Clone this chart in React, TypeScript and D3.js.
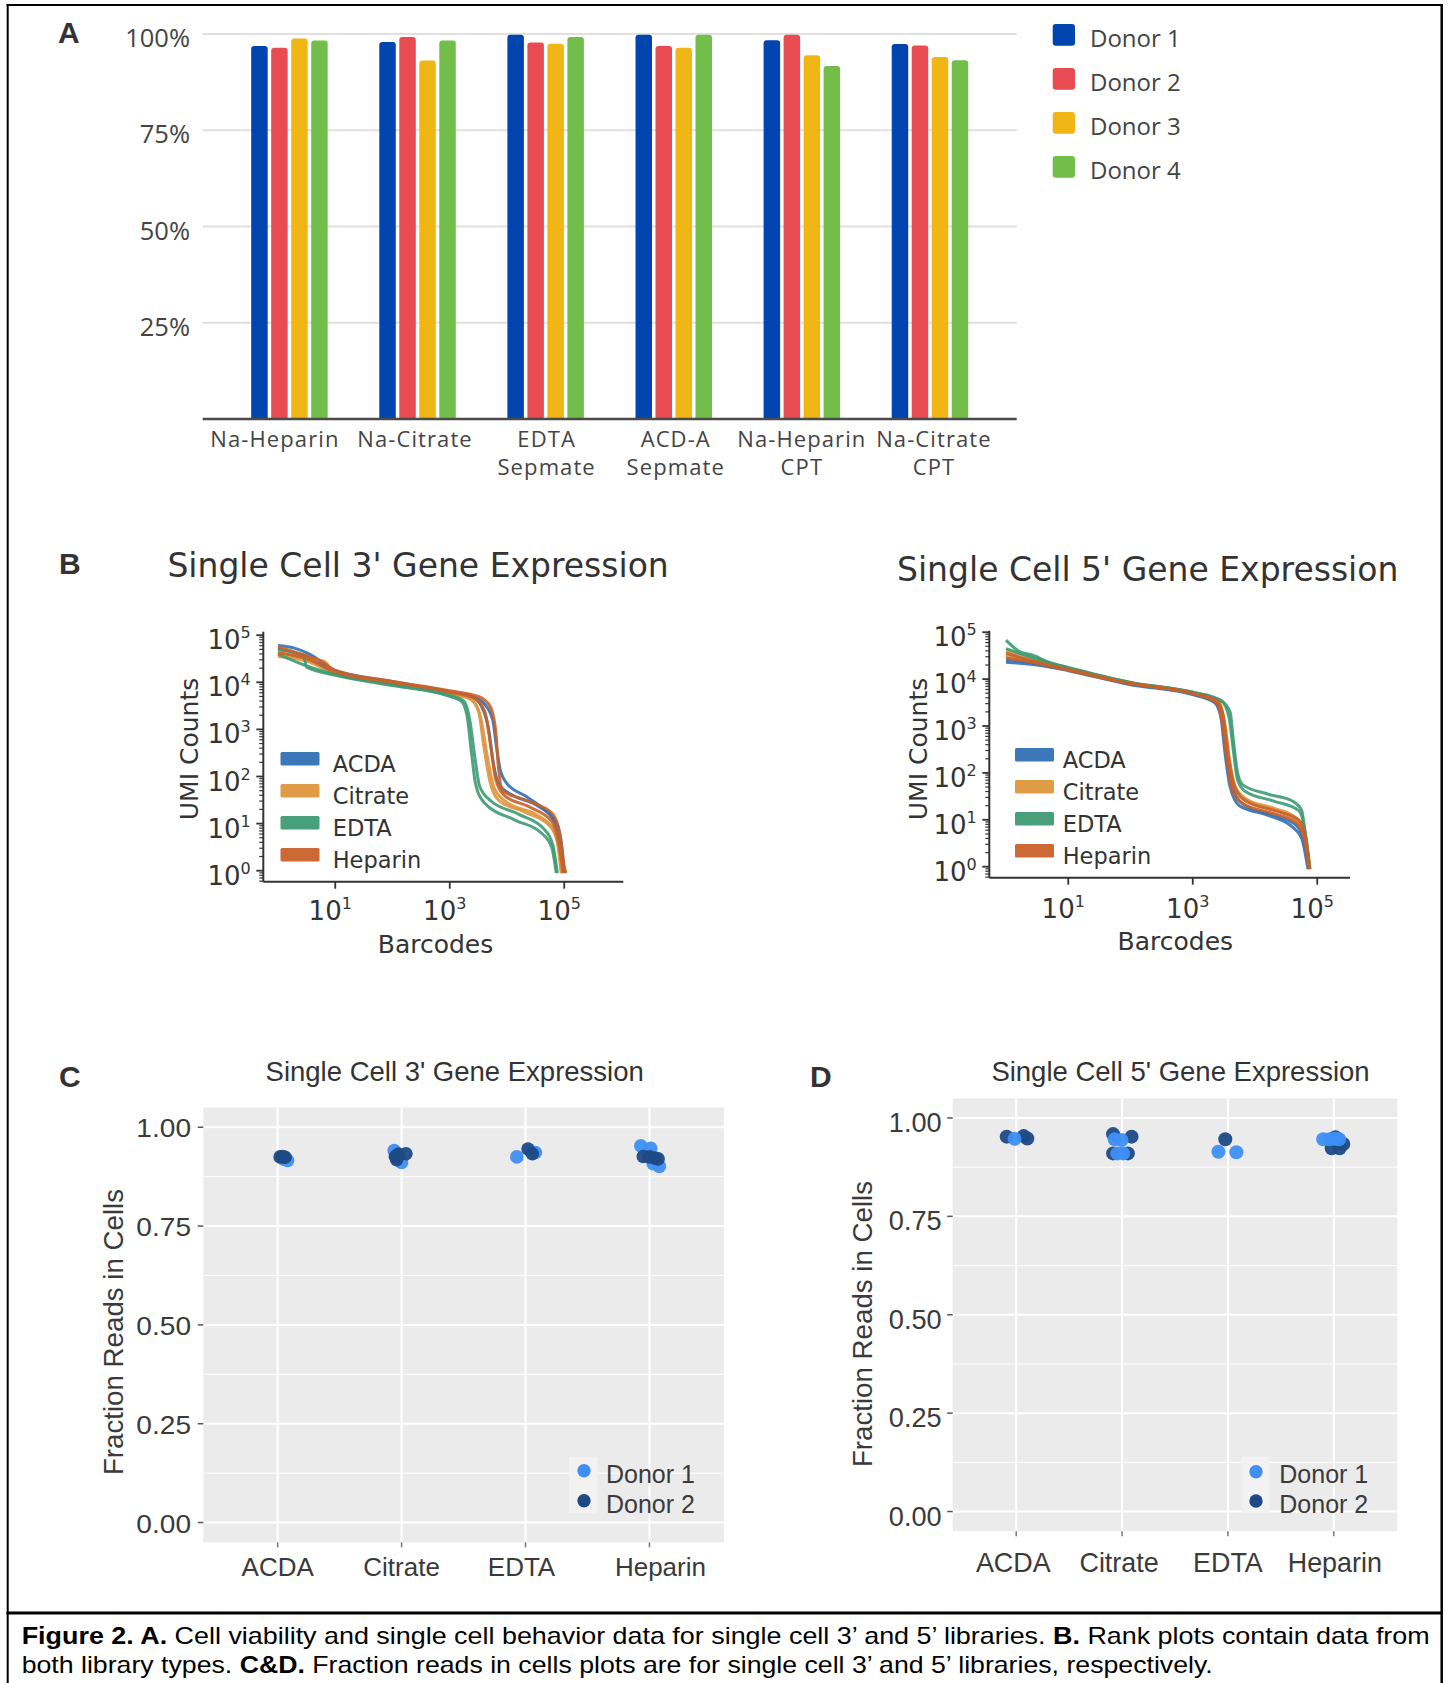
import React from "react";
import * as d3 from "d3";

const W = 1453;
const H = 1683;

const FONT_A = "'Open Sans', 'DejaVu Sans', sans-serif";
const FONT_B = "'DejaVu Sans', sans-serif";
const FONT_CD = "'Liberation Sans', Arial, sans-serif";
const FONT_BOLD = "'Liberation Sans', Arial, sans-serif";

// ---------- Panel A: cell viability per tube type ----------
const tubeTypes = ["Na-Heparin", "Na-Citrate", "EDTA|Sepmate", "ACD-A|Sepmate", "Na-Heparin|CPT", "Na-Citrate|CPT"];
const viabilityDonors = ["Donor 1", "Donor 2", "Donor 3", "Donor 4"];
const viabilityDonor1 = [96.9, 97.9, 99.8, 99.8, 98.4, 97.4];
const viabilityDonor2 = [96.4, 99.2, 97.8, 96.9, 99.8, 97.0];
const viabilityDonor3 = [98.8, 93.1, 97.5, 96.4, 94.5, 94.0];
const viabilityDonor4 = [98.3, 98.3, 99.2, 99.8, 91.7, 93.2];
const viabilityTicks = [25, 50, 75, 100];
const viabilityColors = ["#0044b0", "#e84c52", "#efb615", "#73be4b"];

// ---------- Panel B: barcode rank plots ----------
// each point: [log10(barcode rank), log10(UMI count)]
const acda3a = [[0, 4.78], [0.3, 4.72], [0.55, 4.6], [1, 4.25], [2, 4.02], [3, 3.8], [3.4, 3.7], [3.6, 3.55], [3.75, 3.2], [3.82, 2.6], [3.88, 2.15], [4.0, 1.85], [4.3, 1.6], [4.6, 1.35], [4.85, 1.05], [4.95, 0.6], [5.0, -0.05]];
const acda3b = [[0, 4.7], [0.5, 4.55], [1, 4.2], [2, 4.0], [3, 3.78], [3.4, 3.68], [3.55, 3.5], [3.68, 3.0], [3.76, 2.3], [3.85, 1.85], [4.1, 1.6], [4.5, 1.4], [4.8, 1.1], [4.92, 0.5], [4.97, -0.05]];
const citrate3a = [[0, 4.65], [0.5, 4.5], [0.8, 4.45], [1, 4.2], [2, 3.98], [3, 3.77], [3.35, 3.65], [3.5, 3.4], [3.6, 2.6], [3.7, 1.9], [3.85, 1.5], [4.3, 1.25], [4.75, 0.95], [4.88, 0.6], [4.95, -0.05]];
const citrate3b = [[0, 4.55], [0.5, 4.45], [1, 4.18], [2, 3.97], [3, 3.76], [3.4, 3.62], [3.55, 3.2], [3.66, 2.4], [3.78, 1.75], [4.0, 1.45], [4.5, 1.2], [4.8, 0.9], [4.9, 0.5], [4.95, -0.05]];
const edta3a = [[0, 4.7], [0.45, 4.55], [0.5, 4.32], [1, 4.15], [2, 3.93], [3, 3.7], [3.2, 3.6], [3.3, 3.3], [3.38, 2.5], [3.45, 1.85], [3.6, 1.45], [4.15, 1.07], [4.6, 0.8], [4.78, 0.5], [4.86, -0.05]];
const edta3b = [[0, 4.6], [0.5, 4.35], [1, 4.17], [2, 3.95], [3, 3.72], [3.25, 3.6], [3.35, 3.2], [3.44, 2.4], [3.52, 1.8], [3.7, 1.5], [4.2, 1.2], [4.65, 0.88], [4.8, 0.55], [4.88, -0.05]];
const heparin3a = [[0, 4.75], [0.4, 4.6], [0.75, 4.45], [1, 4.25], [2, 4.02], [3, 3.82], [3.5, 3.7], [3.7, 3.5], [3.8, 3.0], [3.85, 2.2], [3.92, 1.7], [4.2, 1.55], [4.5, 1.42], [4.8, 1.2], [4.92, 0.8], [5.0, 0.1], [5.03, -0.05]];
const heparin3b = [[0, 4.62], [0.5, 4.5], [1, 4.22], [2, 4.0], [3, 3.79], [3.45, 3.65], [3.62, 3.35], [3.72, 2.6], [3.8, 1.95], [3.95, 1.6], [4.4, 1.35], [4.78, 1.05], [4.9, 0.6], [4.98, -0.05]];

const acda5a = [[0, 4.36], [0.5, 4.3], [1, 4.18], [2, 3.88], [3, 3.67], [3.35, 3.5], [3.45, 3.2], [3.52, 2.4], [3.6, 1.7], [3.75, 1.3], [4.2, 1.1], [4.6, 0.85], [4.75, 0.6], [4.85, -0.05]];
const acda5b = [[0, 4.42], [0.5, 4.33], [1, 4.2], [2, 3.9], [3, 3.68], [3.38, 3.5], [3.48, 3.1], [3.56, 2.2], [3.66, 1.6], [3.85, 1.3], [4.3, 1.1], [4.65, 0.9], [4.78, 0.6], [4.87, -0.05]];
const citrate5a = [[0, 4.5], [0.5, 4.38], [1, 4.22], [2, 3.92], [3, 3.7], [3.4, 3.52], [3.5, 3.1], [3.58, 2.3], [3.68, 1.7], [3.85, 1.45], [4.3, 1.25], [4.65, 1.05], [4.8, 0.7], [4.88, -0.05]];
const citrate5b = [[0, 4.6], [0.5, 4.4], [1, 4.23], [2, 3.92], [3, 3.71], [3.42, 3.52], [3.52, 3.0], [3.6, 2.2], [3.7, 1.65], [3.9, 1.4], [4.35, 1.2], [4.7, 0.95], [4.82, 0.6], [4.88, -0.05]];
const edta5a = [[0, 4.83], [0.2, 4.6], [0.45, 4.5], [0.7, 4.35], [1, 4.25], [2, 3.93], [3, 3.72], [3.45, 3.55], [3.6, 3.3], [3.66, 2.6], [3.72, 2.0], [3.8, 1.75], [4.2, 1.55], [4.6, 1.4], [4.75, 1.2], [4.82, 0.5], [4.88, -0.05]];
const edta5b = [[0, 4.65], [0.45, 4.45], [1, 4.24], [2, 3.93], [3, 3.72], [3.45, 3.55], [3.58, 3.2], [3.65, 2.5], [3.72, 1.85], [3.85, 1.6], [4.3, 1.4], [4.7, 1.2], [4.8, 0.8], [4.88, -0.05]];
const heparin5a = [[0, 4.55], [0.5, 4.36], [1, 4.21], [2, 3.91], [3, 3.7], [3.4, 3.53], [3.5, 3.15], [3.57, 2.4], [3.66, 1.75], [3.85, 1.4], [4.3, 1.2], [4.7, 1.0], [4.8, 0.7], [4.88, -0.05]];
const heparin5b = [[0, 4.45], [0.5, 4.34], [1, 4.19], [2, 3.9], [3, 3.69], [3.38, 3.5], [3.47, 3.1], [3.55, 2.3], [3.63, 1.65], [3.8, 1.35], [4.25, 1.15], [4.65, 0.95], [4.78, 0.65], [4.87, -0.05]];

const anticoagulants = ["ACDA", "Citrate", "EDTA", "Heparin"];
const rankColors = ["#3070b5", "#dd963c", "#3d9b73", "#c9612a"];
const rankCurves3 = [[acda3a, acda3b], [citrate3a, citrate3b], [edta3a, edta3b], [heparin3a, heparin3b]];
const rankCurves5 = [[acda5a, acda5b], [citrate5a, citrate5b], [edta5a, edta5b], [heparin5a, heparin5b]];
const rankXTicks = [1, 3, 5];
const rankYTicks = [0, 1, 2, 3, 4, 5];

// ---------- Panels C & D: fraction reads in cells ----------
// each point: [anticoagulant, horizontal jitter (fraction of category spacing), fraction]
const frac3Donor1 = [
  ["ACDA", 0.08, 0.916], ["ACDA", 0.05, 0.919],
  ["Citrate", -0.06, 0.941], ["Citrate", 0, 0.911], ["Citrate", -0.03, 0.925],
  ["EDTA", -0.07, 0.925], ["EDTA", 0.08, 0.936],
  ["Heparin", -0.07, 0.953], ["Heparin", 0.01, 0.947], ["Heparin", 0.03, 0.908], ["Heparin", 0.08, 0.901],
];
const frac3Donor2 = [
  ["ACDA", 0.02, 0.925], ["ACDA", 0.06, 0.924], ["ACDA", 0.04, 0.926],
  ["Citrate", -0.04, 0.918], ["Citrate", -0.025, 0.932], ["Citrate", 0.035, 0.933], ["Citrate", -0.05, 0.926],
  ["EDTA", 0.02, 0.945], ["EDTA", 0.055, 0.933],
  ["Heparin", -0.05, 0.926], ["Heparin", 0, 0.925], ["Heparin", 0.045, 0.922], ["Heparin", 0.07, 0.92],
];
const frac5Donor1 = [
  ["ACDA", -0.016, 0.947],
  ["Citrate", -0.07, 0.946], ["Citrate", -0.005, 0.944], ["Citrate", -0.045, 0.91], ["Citrate", 0.01, 0.91],
  ["EDTA", -0.09, 0.914], ["EDTA", 0.08, 0.913],
  ["Heparin", -0.1, 0.946], ["Heparin", -0.04, 0.946], ["Heparin", 0.05, 0.946], ["Heparin", 0.01, 0.947],
];
const frac5Donor2 = [
  ["ACDA", -0.09, 0.9525], ["ACDA", 0.07, 0.954], ["ACDA", 0.105, 0.948],
  ["Citrate", -0.085, 0.959], ["Citrate", 0.09, 0.9525], ["Citrate", -0.085, 0.91], ["Citrate", 0.055, 0.91],
  ["EDTA", -0.025, 0.946],
  ["Heparin", 0.015, 0.951], ["Heparin", 0.09, 0.934], ["Heparin", -0.02, 0.923], ["Heparin", 0.055, 0.923],
];
const fracTicks = [0, 0.25, 0.5, 0.75, 1];
const fracMinor = [0.125, 0.375, 0.625, 0.875];
const fracDonors = ["Donor 1", "Donor 2"];
const fracColors = ["#3f8ff5", "#1d4a85"];

const TEXT = "#3a3a3a";

function barPath(x: number, y: number, w: number, h: number, r: number) {
  const rr = Math.min(r, w / 2, h);
  return `M${x},${y + h}V${y + rr}Q${x},${y} ${x + rr},${y}H${x + w - rr}Q${x + w},${y} ${x + w},${y + rr}V${y + h}Z`;
}

function PanelA() {
  const series = [viabilityDonor1, viabilityDonor2, viabilityDonor3, viabilityDonor4];
  const left = 202.7, right = 1016.7;
  const x0 = d3.scalePoint<string>().domain(tubeTypes).range([left, right]).padding(0.677);
  const x1 = d3.scaleBand<string>().domain(viabilityDonors).range([-38.25, 38.25]).paddingInner(0.175);
  const y = d3.scaleLinear().domain([0, 100]).range([419, 34]);
  const labelNudge = [-14.5, -2.5, 1, 2, 0, 4];
  return (
    <g>
      <text x={58} y={43} fontFamily={FONT_BOLD} fontWeight="bold" fontSize={30} fill="#333">A</text>
      {viabilityTicks.map((t) => (
        <line key={"g" + t} x1={left} x2={right} y1={y(t)} y2={y(t)} stroke="#e0e0e0" strokeWidth={2} />
      ))}
      {viabilityTicks.map((t) => (
        <text key={"t" + t} x={190} y={y(t) + 13} textAnchor="end" fontFamily={FONT_A} fontSize={25.5} fill="#444">{t}%</text>
      ))}
      {tubeTypes.map((tube, i) =>
        series.map((s, k) => {
          const bx = (x0(tube) as number) + (x1(viabilityDonors[k]) as number);
          const by = y(s[i]);
          return <path key={tube + k} d={barPath(bx, by, x1.bandwidth(), y(0) - by, 3)} fill={viabilityColors[k]} />;
        })
      )}
      <line x1={left} x2={right} y1={y(0)} y2={y(0)} stroke="#4a4a4a" strokeWidth={2.5} />
      {tubeTypes.map((tube, i) => {
        const lines = tube.split("|");
        const cx = (x0(tube) as number) + labelNudge[i];
        return lines.map((ln, j) => (
          <text key={"l" + tube + j} x={cx} y={446.7 + j * 28.5} textAnchor="middle" fontFamily={FONT_A} fontSize={22} letterSpacing={1.1} fill="#444">{ln}</text>
        ));
      })}
      {viabilityDonors.map((d, k) => (
        <g key={d}>
          <rect x={1052.7} y={24 + k * 44} width={22.3} height={21.7} rx={3} fill={viabilityColors[k]} />
          <text x={1090} y={46.7 + k * 44} fontFamily={FONT_A} fontSize={24} fill="#444">{d}</text>
        </g>
      ))}
    </g>
  );
}

type RankCfg = {
  axisX: number; axisY: number; top: number; right: number;
  xOrigin: number; xDecade: number; yOrigin: number; yDecade: number;
  title: string; titleX: number; titleY: number;
  legendX: number; legendTop: number; legendTextX: number;
  xTitleX: number; xTitleY: number; yTitleX: number; yTitleY: number; xTickY: number;
};

function RankPlot({ cfg, curves }: { cfg: RankCfg; curves: number[][][][] }) {
  const { axisX, axisY, top, right, xOrigin, xDecade, yOrigin, yDecade } = cfg;
  const x = d3.scaleLog()
    .domain([10 ** ((axisX - xOrigin) / xDecade), 10 ** ((right - xOrigin) / xDecade)])
    .range([axisX, right]);
  const y = d3.scaleLog()
    .domain([10 ** ((yOrigin - axisY) / yDecade), 10 ** ((yOrigin - top) / yDecade)])
    .range([axisY, top]);
  const line = d3.line<number[]>()
    .x((d) => x(10 ** d[0]))
    .y((d) => y(10 ** d[1]))
    .curve(d3.curveMonotoneX);
  const [yMin, yMax] = y.domain();
  const minor: number[] = [];
  for (let e = -1; e <= 5; e++) {
    for (let m = 2; m <= 9; m++) {
      const v = m * 10 ** e;
      if (v >= yMin && v <= yMax) minor.push(v);
    }
  }
  return (
    <g>
      <text x={cfg.titleX} y={cfg.titleY} fontFamily={FONT_B} fontSize={33} fill="#333">{cfg.title}</text>
      {curves.map((group, c) =>
        group.map((pts, k) => (
          <path key={c + "-" + k} d={line(pts) || ""} fill="none" stroke={rankColors[c]} strokeWidth={3} strokeOpacity={0.9} strokeLinejoin="round" />
        ))
      )}
      <line x1={axisX} x2={axisX} y1={top} y2={axisY} stroke="#333" strokeWidth={2} />
      <line x1={axisX} x2={right} y1={axisY} y2={axisY} stroke="#333" strokeWidth={2} />
      {minor.map((v) => (
        <line key={"m" + v} x1={axisX - 4} x2={axisX} y1={y(v)} y2={y(v)} stroke="#333" strokeWidth={1.2} />
      ))}
      {rankYTicks.map((e) => (
        <g key={"y" + e}>
          <line x1={axisX - 7} x2={axisX} y1={y(10 ** e)} y2={y(10 ** e)} stroke="#333" strokeWidth={1.8} />
          <text x={axisX - 12.5} y={y(10 ** e) + 14} textAnchor="end" fontFamily={FONT_B} fontSize={26} fill="#333">
            10<tspan dy={-11} fontSize={16}>{e}</tspan>
          </text>
        </g>
      ))}
      {rankXTicks.map((e) => (
        <g key={"x" + e}>
          <line x1={x(10 ** e)} x2={x(10 ** e)} y1={axisY} y2={axisY + 7} stroke="#333" strokeWidth={1.8} />
          <text x={x(10 ** e) - 5} y={cfg.xTickY} textAnchor="middle" fontFamily={FONT_B} fontSize={26} fill="#333">
            10<tspan dy={-11} fontSize={16}>{e}</tspan>
          </text>
        </g>
      ))}
      <text x={cfg.xTitleX} y={cfg.xTitleY} textAnchor="middle" fontFamily={FONT_B} fontSize={25} fill="#333">Barcodes</text>
      <text transform={`translate(${cfg.yTitleX},${cfg.yTitleY}) rotate(-90)`} textAnchor="middle" fontFamily={FONT_B} fontSize={25} fill="#333">UMI Counts</text>
      {anticoagulants.map((a, k) => (
        <g key={a}>
          <rect x={cfg.legendX} y={cfg.legendTop + k * 32} width={39} height={13.5} rx={1.5} fill={rankColors[k]} fillOpacity={0.95} />
          <text x={cfg.legendTextX} y={cfg.legendTop + k * 32 + 20} fontFamily={FONT_B} fontSize={22.5} fill="#333">{a}</text>
        </g>
      ))}
    </g>
  );
}

type FracCfg = {
  left: number; right: number; top: number; bottom: number;
  tickFont: number; tickSx: number; tickBase: number; yLabelRight: number;
  xLabelY: number; xLabelFont: number; xLabelSx: number; labelNudge: number[];
  title: string; titleX: number; titleY: number; yTitleX: number; yTitleY: number;
  keyX: number; keyY: number; keyW: number; keyH: number; dotX: number; dotY: number[];
  legendTextX: number; legendBase: number[]; radius: number;
  letter: string; letterX: number; lightOnTop: boolean;
};

function FractionPlot({ cfg, donor1, donor2 }: { cfg: FracCfg; donor1: any[]; donor2: any[] }) {
  const x = d3.scalePoint<string>().domain(anticoagulants).range([cfg.left, cfg.right]).padding(0.6);
  const y = d3.scaleLinear().domain([-0.05, 1.05]).range([cfg.bottom, cfg.top]);
  const step = x.step();
  const layers = cfg.lightOnTop
    ? [{ pts: donor2, color: fracColors[1] }, { pts: donor1, color: fracColors[0] }]
    : [{ pts: donor1, color: fracColors[0] }, { pts: donor2, color: fracColors[1] }];
  return (
    <g>
      <text x={cfg.letterX} y={1087} fontFamily={FONT_BOLD} fontWeight="bold" fontSize={30} fill="#333">{cfg.letter}</text>
      <text x={cfg.titleX} y={cfg.titleY} textAnchor="middle" fontFamily={FONT_CD} fontSize={27.5} fill="#333">{cfg.title}</text>
      <rect x={cfg.left} y={cfg.top} width={cfg.right - cfg.left} height={cfg.bottom - cfg.top} fill="#ebebeb" />
      {fracMinor.map((t) => (
        <line key={"n" + t} x1={cfg.left} x2={cfg.right} y1={y(t)} y2={y(t)} stroke="#fff" strokeWidth={1} />
      ))}
      {fracTicks.map((t) => (
        <line key={"g" + t} x1={cfg.left} x2={cfg.right} y1={y(t)} y2={y(t)} stroke="#fff" strokeWidth={2} />
      ))}
      {anticoagulants.map((a) => (
        <line key={"v" + a} x1={x(a)} x2={x(a)} y1={cfg.top} y2={cfg.bottom} stroke="#fff" strokeWidth={2} />
      ))}
      {fracTicks.map((t) => (
        <g key={"t" + t}>
          <line x1={cfg.left - 5.5} x2={cfg.left} y1={y(t)} y2={y(t)} stroke="#555" strokeWidth={1.5} />
          <text transform={`translate(${cfg.yLabelRight},${y(t) + cfg.tickBase}) scale(${cfg.tickSx},1)`} textAnchor="end" fontFamily={FONT_CD} fontSize={cfg.tickFont} fill={TEXT}>{t.toFixed(2)}</text>
        </g>
      ))}
      {anticoagulants.map((a, i) => (
        <g key={"x" + a}>
          <line x1={x(a)} x2={x(a)} y1={cfg.bottom} y2={cfg.bottom + 5} stroke="#777" strokeWidth={1.5} />
          <text transform={`translate(${(x(a) as number) + cfg.labelNudge[i]},${cfg.xLabelY}) scale(${cfg.xLabelSx},1)`} textAnchor="middle" fontFamily={FONT_CD} fontSize={cfg.xLabelFont} fill={TEXT}>{a}</text>
        </g>
      ))}
      <text transform={`translate(${cfg.yTitleX},${cfg.yTitleY}) rotate(-90)`} textAnchor="middle" fontFamily={FONT_CD} fontSize={27.7} fill={TEXT}>Fraction Reads in Cells</text>
      {layers.map((layer, li) =>
        layer.pts.map((p, k) => (
          <circle key={li + "-" + k} cx={(x(p[0]) as number) + p[1] * step} cy={y(p[2])} r={cfg.radius} fill={layer.color} fillOpacity={0.95} />
        ))
      )}
      <rect x={cfg.keyX} y={cfg.keyY} width={cfg.keyW} height={cfg.keyH} fill="#f2f2f2" />
      {fracDonors.map((d, k) => (
        <g key={d}>
          <circle cx={cfg.dotX} cy={cfg.dotY[k]} r={6.7} fill={fracColors[k]} />
          <text x={cfg.legendTextX} y={cfg.legendBase[k]} fontFamily={FONT_CD} fontSize={25} fill={TEXT}>{d}</text>
        </g>
      ))}
    </g>
  );
}

const rank3Cfg: RankCfg = {
  axisX: 263.3, axisY: 881.7, top: 631.7, right: 623.3,
  xOrigin: 278, xDecade: 57.25, yOrigin: 870.7, yDecade: 47.1,
  title: "Single Cell 3' Gene Expression", titleX: 167.4, titleY: 577,
  legendX: 280.5, legendTop: 752, legendTextX: 332.7,
  xTitleX: 435.5, xTitleY: 952.7, yTitleX: 198.3, yTitleY: 749, xTickY: 920,
};
const rank5Cfg: RankCfg = {
  axisX: 989.3, axisY: 877.7, top: 630.7, right: 1350,
  xOrigin: 1006, xDecade: 62.25, yOrigin: 866.7, yDecade: 46.9,
  title: "Single Cell 5' Gene Expression", titleX: 897, titleY: 580.5,
  legendX: 1015, legendTop: 748, legendTextX: 1062.7,
  xTitleX: 1175.3, xTitleY: 950, yTitleX: 926.7, yTitleY: 749, xTickY: 918.3,
};

const frac3Cfg: FracCfg = {
  left: 203.3, right: 723.8, top: 1107.5, bottom: 1542.3,
  tickFont: 26, tickSx: 1.08, tickBase: 10, yLabelRight: 191,
  xLabelY: 1576, xLabelFont: 25, xLabelSx: 1.04, labelNudge: [0, 0, -4, 11],
  title: "Single Cell 3' Gene Expression", titleX: 454.7, titleY: 1080.7, yTitleX: 123, yTitleY: 1332,
  keyX: 569, keyY: 1457.3, keyW: 28.3, keyH: 56, dotX: 584, dotY: [1470.7, 1500.7],
  legendTextX: 606, legendBase: [1482.7, 1513.3], radius: 6.8,
  letter: "C", letterX: 59, lightOnTop: false,
};
const frac5Cfg: FracCfg = {
  left: 952.7, right: 1397.3, top: 1098.3, bottom: 1531.2,
  tickFont: 28, tickSx: 0.97, tickBase: 14, yLabelRight: 941.7,
  xLabelY: 1572, xLabelFont: 28, xLabelSx: 0.96, labelNudge: [-3, -3, 0, 1],
  title: "Single Cell 5' Gene Expression", titleX: 1180.5, titleY: 1080.7, yTitleX: 872, yTitleY: 1324,
  keyX: 1241.7, keyY: 1456.7, keyW: 27.6, keyH: 56.6, dotX: 1256, dotY: [1471.7, 1501],
  legendTextX: 1279.3, legendBase: [1482.7, 1512.7], radius: 7,
  letter: "D", letterX: 810, lightOnTop: true,
};

function Caption() {
  return (
    <g fontFamily={FONT_CD} fontSize={24} fill="#000">
      <text x={21.7} y={1644} textLength={1408} lengthAdjust="spacingAndGlyphs">
        <tspan fontWeight="bold">Figure 2. A.</tspan>
        {" Cell viability and single cell behavior data for single cell 3\u2019 and 5\u2019 libraries. "}
        <tspan fontWeight="bold">B.</tspan>
        {" Rank plots contain data from"}
      </text>
      <text x={21.7} y={1673.3} textLength={1191} lengthAdjust="spacingAndGlyphs">
        {"both library types. "}
        <tspan fontWeight="bold">C&amp;D.</tspan>
        {" Fraction reads in cells plots are for single cell 3\u2019 and 5\u2019 libraries, respectively."}
      </text>
    </g>
  );
}

export default function App() {
  return (
    <svg width={W} height={H} viewBox={`0 0 ${W} ${H}`} style={{ position: "absolute", left: 0, top: 0, display: "block" }}>
      <rect x={0} y={0} width={W} height={H} fill="#fff" />
      <PanelA />
      <text x={59} y={574} fontFamily={FONT_BOLD} fontWeight="bold" fontSize={30} fill="#333">B</text>
      <RankPlot cfg={rank3Cfg} curves={rankCurves3} />
      <RankPlot cfg={rank5Cfg} curves={rankCurves5} />
      <FractionPlot cfg={frac3Cfg} donor1={frac3Donor1} donor2={frac3Donor2} />
      <FractionPlot cfg={frac5Cfg} donor1={frac5Donor1} donor2={frac5Donor2} />
      <Caption />
      {/* figure frame and caption divider */}
      <line x1={6.5} x2={1443} y1={5} y2={5} stroke="#000" strokeWidth={2} />
      <line x1={7.7} x2={7.7} y1={4} y2={H} stroke="#000" strokeWidth={2} />
      <line x1={1441.7} x2={1441.7} y1={4} y2={H} stroke="#000" strokeWidth={2.5} />
      <line x1={6.5} x2={1443} y1={1613} y2={1613} stroke="#000" strokeWidth={3} />
    </svg>
  );
}
